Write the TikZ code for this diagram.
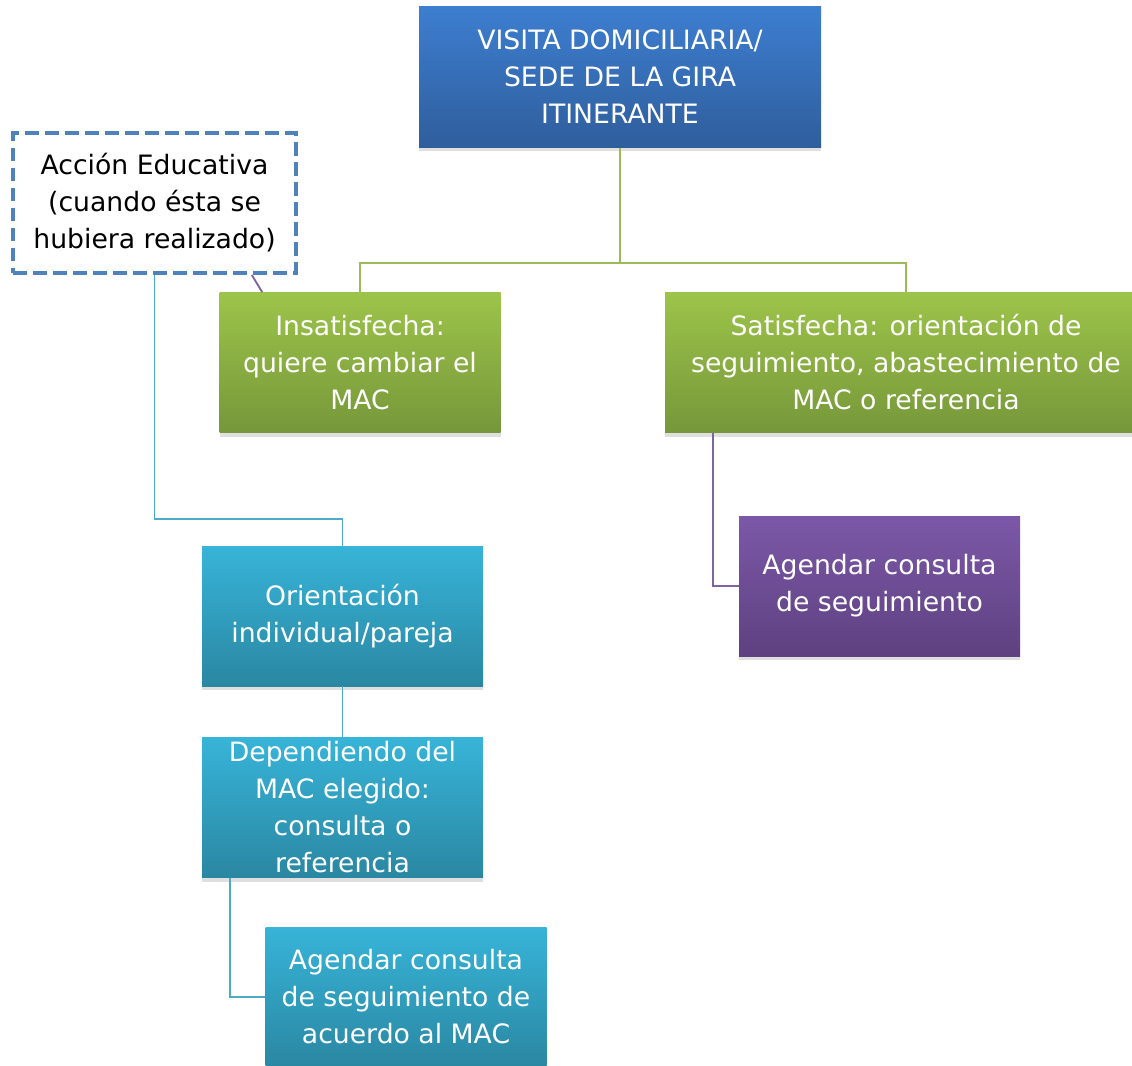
\documentclass[tikz,border=0pt]{standalone}
\usepackage{fontspec}
\setmainfont{DejaVu Sans}
\usetikzlibrary{positioning,shadows}
\definecolor{blueTop}{HTML}{3D7ED0}
\definecolor{blueBot}{HTML}{2F5E9C}
\definecolor{greenTop}{HTML}{9DC44A}
\definecolor{greenBot}{HTML}{76973A}
\definecolor{tealTop}{HTML}{37B4D8}
\definecolor{tealBot}{HTML}{2A87A2}
\definecolor{purpleTop}{HTML}{7C58A8}
\definecolor{purpleBot}{HTML}{5E4180}
\definecolor{dashBlue}{HTML}{4F81BD}
\definecolor{greenLine}{HTML}{9BBB59}
\definecolor{tealLine}{HTML}{4BACC6}
\definecolor{purpleLine}{HTML}{8064A2}
\tikzset{
  box/.style={rectangle,minimum width=210.75pt,minimum height=105pt,inner sep=0pt,
    align=center,text=white,font=\fontsize{20}{27.75}\selectfont,
    drop shadow={opacity=0.25,shadow xshift=0pt,shadow yshift=-3pt}},
  blue box/.style={box,top color=blueTop,bottom color=blueBot},
  green box/.style={box,top color=greenTop,bottom color=greenBot},
  teal box/.style={box,top color=tealTop,bottom color=tealBot},
  purple box/.style={box,top color=purpleTop,bottom color=purpleBot},
  dash box/.style={rectangle,draw=dashBlue,line width=3pt,dash pattern=on 10pt off 5pt,
    fill=white,minimum width=212pt,minimum height=105pt,inner sep=0pt,align=center,
    font=\fontsize{20}{27.75}\selectfont},
  link/.style={line width=1.4pt}
}
\begin{document}
\begin{tikzpicture}[x=0.75pt,y=-0.75pt]
\useasboundingbox (0,0) rectangle (1132,1066);
% top
\node[blue box,minimum width=301.5pt,minimum height=105.75pt] (visita) at (620,77) {VISITA DOMICILIARIA/\\SEDE DE LA GIRA\\ITINERANTE};
\node[green box] (insat) at (360,362.5) {Insatisfecha:\\quiere cambiar el\\MAC};
\node[green box,minimum width=361.5pt] (sat) at (906,362.5) {Satisfecha: orientación de\\seguimiento, abastecimiento de\\MAC o referencia};
\node[dash box] (accion) at (154.5,203) {Acción Educativa\\(cuando ésta se\\hubiera realizado)};
\node[purple box] (agendaS) at (879.5,586) {Agendar consulta\\de seguimiento};
% left column
\node[teal box] (orient) at (342.5,616) {Orientación\\individual/pareja};
\node[teal box] (depend) [below=38.25pt of orient] {Dependiendo del\\MAC elegido:\\consulta o\\referencia};
\node[teal box] (agendaO) at (406,997) {Agendar consulta\\de seguimiento de\\acuerdo al MAC};

\coordinate (split) at (620,263);
\draw[link,greenLine] (visita) -- (split) -| (insat);
\draw[link,greenLine] (split) -| (sat);
\draw[link,purpleLine] ([xshift=-34.5pt]accion.south east) -- ([xshift=32.25pt]insat.north west);
\draw[link,tealLine] (accion.south) -- ++(0,244) -| (orient.north);
\draw[link,tealLine] (orient) -- (depend);
\draw[link,tealLine] ([xshift=21pt]depend.south west) |- (agendaO.west);
\draw[link,purpleLine] ([xshift=36pt]sat.south west) |- (agendaS.west);
\end{tikzpicture}
\end{document}
